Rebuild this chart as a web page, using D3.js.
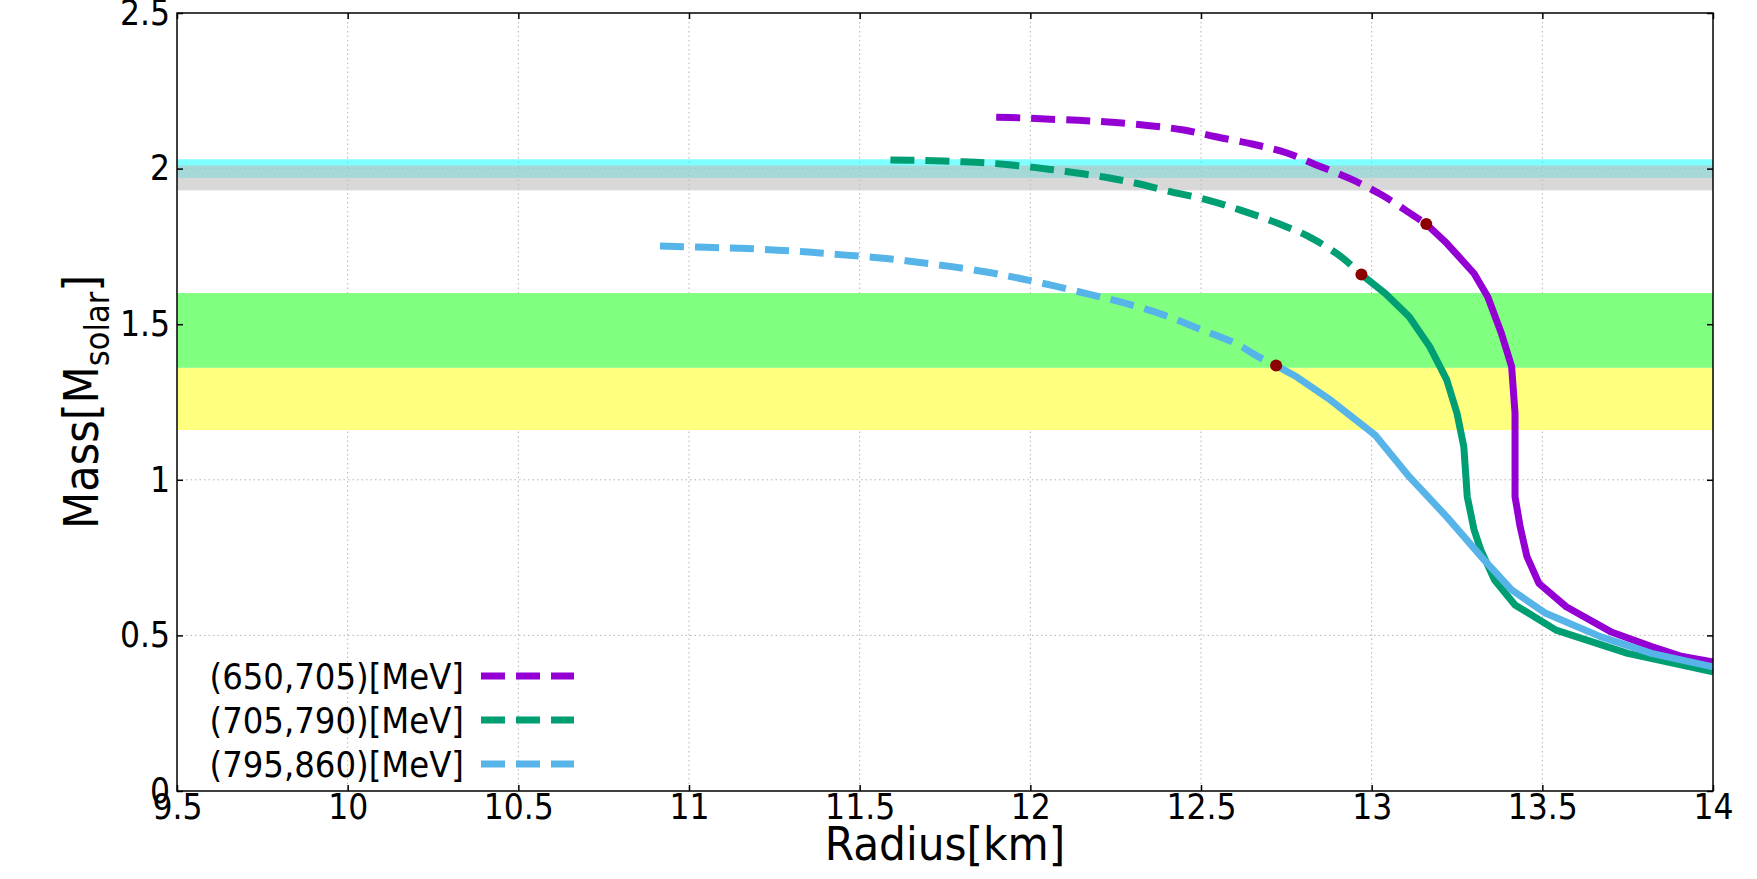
<!DOCTYPE html>
<html lang="en">
<head>
    <meta charset="UTF-8">
    <title>Mass-Radius</title>
    <script src="https://d3js.org/d3.v7.min.js"></script>
    <style>
        body {
            margin: 0;
            background: #fff;
        }

        svg text {
            font-family: "DejaVu Sans Condensed", "DejaVu Sans", sans-serif;
            font-stretch: condensed;
            fill: #000;
        }

        .grid line {
            stroke: #b4b4b4;
            stroke-width: 1;
            stroke-dasharray: 1.5, 3;
        }
    </style>
</head>
<body>
    <script>
        // Data
        const seriesLabels = ["(650,705)[MeV]", "(705,790)[MeV]", "(795,860)[MeV]"];

        const radius650 = [11.90, 11.97, 12.03, 12.14, 12.24, 12.35, 12.45, 12.54, 12.65, 12.75, 12.84, 12.94, 13.03, 13.12, 13.16,
            13.22, 13.30, 13.34, 13.38, 13.41, 13.42, 13.42, 13.42, 13.435, 13.455, 13.49, 13.57, 13.70, 13.82, 13.91, 14.0];
        const mass650 = [2.165, 2.163, 2.160, 2.155, 2.149, 2.138, 2.124, 2.103, 2.079, 2.051, 2.011, 1.966, 1.915, 1.851, 1.822,
            1.760, 1.663, 1.588, 1.471, 1.364, 1.214, 1.096, 0.946, 0.849, 0.753, 0.667, 0.592, 0.512, 0.464, 0.432, 0.415];
        const onset650 = 14;

        const radius705 = [11.59, 11.69, 11.80, 11.90, 12.01, 12.11, 12.22, 12.31, 12.41, 12.52, 12.62, 12.73, 12.82, 12.91, 12.97,
            13.04, 13.11, 13.17, 13.22, 13.25, 13.27, 13.28, 13.30, 13.32, 13.36, 13.42, 13.54, 13.75, 14.0];
        const mass705 = [2.028, 2.026, 2.022, 2.016, 2.004, 1.990, 1.972, 1.953, 1.926, 1.899, 1.865, 1.822, 1.779, 1.717, 1.660,
            1.599, 1.524, 1.428, 1.321, 1.214, 1.106, 0.946, 0.839, 0.774, 0.678, 0.598, 0.517, 0.442, 0.383];
        const onset705 = 14;

        const radius795 = [10.915, 11.05, 11.15, 11.26, 11.36, 11.46, 11.57, 11.67, 11.77, 11.88, 11.97, 12.07, 12.18, 12.28, 12.39,
            12.49, 12.60, 12.67, 12.72, 12.78, 12.88, 13.01, 13.11, 13.22, 13.33, 13.41, 13.51, 13.67, 13.82, 14.0];
        const mass795 = [1.751, 1.747, 1.744, 1.738, 1.731, 1.722, 1.712, 1.699, 1.685, 1.666, 1.647, 1.623, 1.594, 1.567, 1.530,
            1.487, 1.439, 1.394, 1.367, 1.331, 1.256, 1.144, 1.010, 0.881, 0.742, 0.646, 0.571, 0.496, 0.442, 0.399];
        const onset795 = 18;

        // observational bands (mass ranges)
        const bandLow = [1.16, 1.36, 1.97, 1.93];
        const bandHigh = [1.36, 1.60, 2.03, 2.01];

        const xTicks = [9.5, 10, 10.5, 11, 11.5, 12, 12.5, 13, 13.5, 14];
        const yTicks = [0, 0.5, 1, 1.5, 2, 2.5];

        // Set up
        const width = 1757;
        const height = 879;
        const margin = { top: 13, right: 44, bottom: 88, left: 177 };
        const innerW = width - margin.left - margin.right;
        const innerH = height - margin.top - margin.bottom;

        const colors = ["#9400d3", "#009e73", "#56b4e9"];
        const bandFill = ["#ffff80", "#80ff80", "#00ffff", "#c0c0c0"];
        const bandOpacity = [1, 1, 0.5, 0.62];

        const x = d3.scaleLinear().domain([9.5, 14]).range([0, innerW]);
        const y = d3.scaleLinear().domain([0, 2.5]).range([innerH, 0]);

        const svg = d3.select("body").append("svg")
            .attr("width", width)
            .attr("height", height);

        const g = svg.append("g")
            .attr("transform", `translate(${margin.left},${margin.top})`);

        // grid
        const grid = g.append("g").attr("class", "grid");
        grid.selectAll(".gx")
            .data(xTicks.slice(1, -1))
            .join("line")
            .attr("x1", d => x(d)).attr("x2", d => x(d))
            .attr("y1", 0).attr("y2", innerH);
        grid.selectAll(".gy")
            .data(yTicks.slice(1, -1))
            .join("line")
            .attr("y1", d => y(d)).attr("y2", d => y(d))
            .attr("x1", 0).attr("x2", innerW);

        // bands
        g.append("g")
            .selectAll("rect")
            .data(bandLow)
            .join("rect")
            .attr("x", 0)
            .attr("width", innerW)
            .attr("y", (d, i) => y(bandHigh[i]))
            .attr("height", (d, i) => y(d) - y(bandHigh[i]))
            .attr("fill", (d, i) => bandFill[i])
            .attr("fill-opacity", (d, i) => bandOpacity[i]);

        // curves
        const series = [
            { r: radius650, m: mass650, onset: onset650 },
            { r: radius705, m: mass705, onset: onset705 },
            { r: radius795, m: mass795, onset: onset795 }
        ];

        const lineDash = d3.line()
            .x(d => x(d[0]))
            .y(d => y(d[1]))
            .curve(d3.curveCatmullRom.alpha(0.5));
        const lineSolid = d3.line()
            .x(d => x(d[0]))
            .y(d => y(d[1]));

        const curves = g.append("g").attr("fill", "none").attr("stroke-width", 7);

        series.forEach((s, i) => {
            const pts = s.r.map((r, k) => [r, s.m[k]]);
            curves.append("path")
                .attr("d", lineDash(pts.slice(0, s.onset + 1)))
                .attr("stroke", colors[i])
                .attr("stroke-dasharray", "24,11");
            curves.append("path")
                .attr("d", lineSolid(pts.slice(s.onset)))
                .attr("stroke", colors[i])
                .attr("stroke-linejoin", "round");
        });

        g.append("g")
            .selectAll("circle")
            .data(series)
            .join("circle")
            .attr("cx", d => x(d.r[d.onset]))
            .attr("cy", d => y(d.m[d.onset]))
            .attr("r", 6)
            .attr("fill", "#8b0000");

        // axes (ticks inward, mirrored)
        g.append("g")
            .attr("transform", `translate(0,${innerH})`)
            .call(d3.axisBottom(x).tickValues(xTicks).tickFormat(d => d).tickSize(-6).tickPadding(3));
        g.append("g")
            .call(d3.axisLeft(y).tickValues(yTicks).tickFormat(d => d).tickSize(-6).tickPadding(7));
        g.append("g")
            .call(d3.axisTop(x).tickValues(xTicks).tickFormat("").tickSize(-6));
        g.append("g")
            .attr("transform", `translate(${innerW},0)`)
            .call(d3.axisRight(y).tickValues(yTicks).tickFormat("").tickSize(-6));

        g.selectAll(".domain").remove();
        g.selectAll(".tick line").attr("stroke", "#000").attr("stroke-width", 1.5);
        g.selectAll(".tick text").attr("font-size", 35).attr("font-family", null);

        g.append("rect")
            .attr("width", innerW)
            .attr("height", innerH)
            .attr("fill", "none")
            .attr("stroke", "#000")
            .attr("stroke-width", 1.5);

        // axis titles
        svg.append("text")
            .attr("x", margin.left + innerW / 2)
            .attr("y", 860)
            .attr("text-anchor", "middle")
            .attr("font-size", 47)
            .text("Radius[km]");

        const yt = svg.append("text")
            .attr("transform", `translate(98,${margin.top + innerH / 2}) rotate(-90)`)
            .attr("text-anchor", "middle")
            .attr("font-size", 48);
        yt.append("tspan").text("Mass[M");
        yt.append("tspan").attr("font-size", 34).attr("dy", 11).text("solar");
        yt.append("tspan").attr("dy", -11).text("]");

        // legend
        const legend = svg.append("g")
            .selectAll("g")
            .data(seriesLabels)
            .join("g")
            .attr("transform", (d, i) => `translate(464,${676 + i * 44})`);

        legend.append("text")
            .attr("text-anchor", "end")
            .attr("dy", "0.35em")
            .attr("font-size", 36)
            .text(d => d);

        legend.append("line")
            .attr("x1", 17)
            .attr("x2", 110)
            .attr("stroke", (d, i) => colors[i])
            .attr("stroke-width", 7)
            .attr("stroke-dasharray", "24,11");
    </script>
</body>
</html>
